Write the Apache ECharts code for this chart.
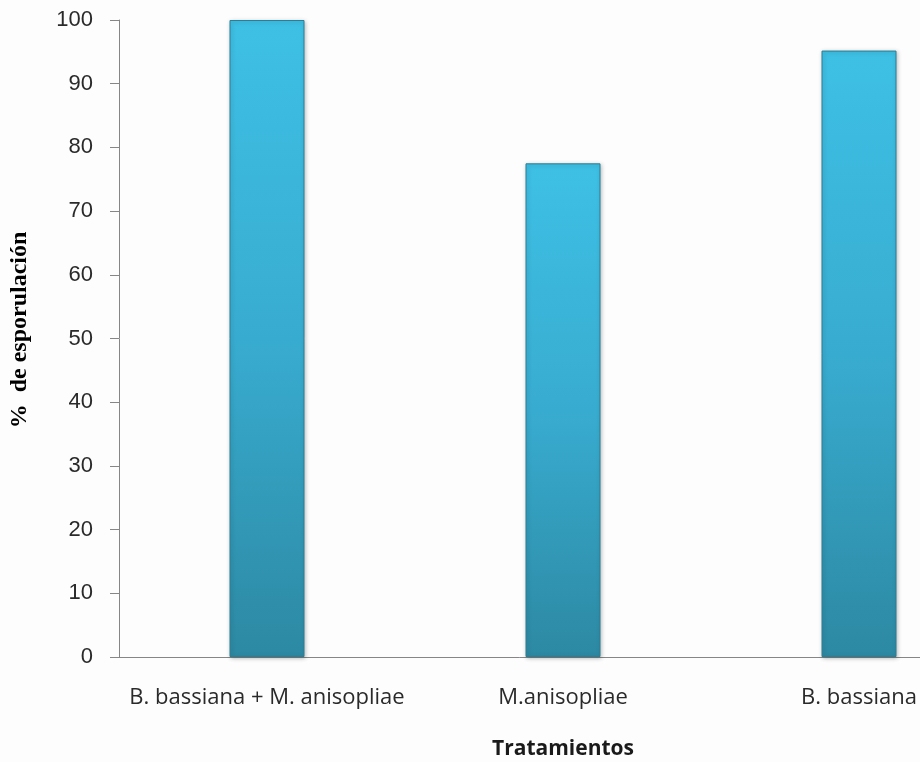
<!DOCTYPE html>
<html>
<head>
<meta charset="utf-8">
<script src="https://cdn.jsdelivr.net/npm/echarts@6/dist/echarts.min.js"></script>
<style>
  html, body { margin: 0; padding: 0; background: #fdfdfd; }
  #chart { width: 920px; height: 762px; }
</style>
</head>
<body>
<div id="chart"></div>
<script>
// Tratamientos y porcentaje de esporulación
const categories = ['B. bassiana + M. anisopliae', 'M.anisopliae', 'B. bassiana'];
const esporulacion = [100, 77.5, 95.2];
const yTicks = { min: 0, max: 100, interval: 10 };

const chart = echarts.init(document.getElementById('chart'), null, { renderer: 'canvas' });

const barFill = new echarts.graphic.LinearGradient(0, 0, 0, 1, [
  { offset: 0, color: '#3ec0e5' },
  { offset: 0.5, color: '#38acd0' },
  { offset: 1, color: '#2d89a3' }
]);

chart.setOption({
  backgroundColor: '#fdfdfd',
  animation: false,
  grid: {
    left: 119, top: 20, width: 888, height: 637,
    containLabel: false,
    outerBoundsMode: 'none'
  },
  xAxis: {
    type: 'category',
    data: categories,
    boundaryGap: true,
    name: 'Tratamientos',
    nameLocation: 'middle',
    nameGap: 82,
    nameTextStyle: {
      fontFamily: 'Open Sans, Liberation Sans, sans-serif',
      fontWeight: 'bold',
      fontSize: 21,
      color: '#1a1a1a'
    },
    axisLine: { show: true, lineStyle: { color: '#868686', width: 1 } },
    axisTick: { show: false },
    axisLabel: {
      interval: 0,
      margin: 30,
      color: '#2a2a2a',
      fontFamily: 'Open Sans, Liberation Sans, sans-serif',
      fontSize: 22
    }
  },
  yAxis: {
    type: 'value',
    min: yTicks.min,
    max: yTicks.max,
    interval: yTicks.interval,
    axisLine: { show: true, lineStyle: { color: '#868686', width: 1 } },
    axisTick: { show: true, length: 9, lineStyle: { color: '#868686' } },
    splitLine: { show: false },
    axisLabel: {
      margin: 26,
      color: '#2a2a2a',
      fontFamily: 'Liberation Sans, Arial, sans-serif',
      fontSize: 22
    }
  },
  series: [{
    type: 'bar',
    data: esporulacion,
    barWidth: 75,
    itemStyle: {
      color: barFill,
      borderColor: '#2a7e95',
      borderWidth: 1,
      shadowColor: 'rgba(0,0,0,0.25)',
      shadowBlur: 4,
      shadowOffsetX: 1,
      shadowOffsetY: 1
    }
  }],
  graphic: [{
    type: 'text',
    x: 20,
    y: 330,
    rotation: Math.PI / 2,
    style: {
      text: '%  de esporulación',
      fontFamily: 'Liberation Serif, DejaVu Serif, serif',
      fontWeight: 'bold',
      fontSize: 24,
      fill: '#000',
      align: 'center',
      verticalAlign: 'middle'
    }
  }]
});
</script>
</body>
</html>
